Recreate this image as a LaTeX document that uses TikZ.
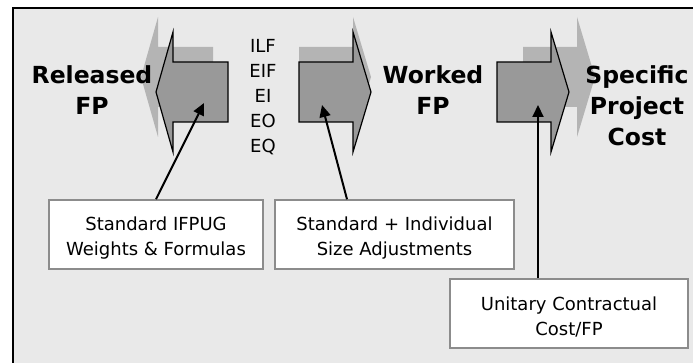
\documentclass[tikz,border=0pt]{standalone}
\usepackage{fontspec}
\setmainfont{DejaVu Sans}
\usetikzlibrary{arrows.meta,calc}
\definecolor{bggray}{HTML}{E9E9E9}
\definecolor{arrowgray}{HTML}{999999}
\definecolor{shadowgray}{HTML}{B4B4B4}
\definecolor{boxgray}{HTML}{8C8C8C}
\begin{document}
\begin{tikzpicture}[x=1pt,y=-1pt,
  bigarrow/.style={fill=arrowgray,draw=black,line width=1.2pt,line join=miter},
  shadowarrow/.style={fill=shadowgray},
  infobox/.style={draw=boxgray,line width=1.5pt,fill=white,inner sep=0pt,minimum height=69pt},
  boxtext/.style={font=\fontsize{18}{25}\selectfont,align=center,inner sep=0pt},
  biglabel/.style={font=\fontsize{23.5}{31}\selectfont\bfseries,align=center,inner sep=0pt},
  codelabel/.style={font=\fontsize{18}{25}\selectfont,align=center,inner sep=0pt},
  pointer/.style={line width=2pt,-{Triangle[length=12pt,width=11pt]}}]
\useasboundingbox (0,0) rectangle (693,363);
% frame
\fill[bggray] (13,8) rectangle (693,363);
\draw[line width=2pt] (13,363) -- (13,8) -- (693,8);
% left arrow
\fill[shadowarrow] (213,47) -- (158,47) -- (158,17) -- (141,77) -- (158,137) -- (158,107) -- (213,107) -- cycle;
\draw[bigarrow] (228,62) -- (173,62) -- (173,32) -- (156,92) -- (173,152) -- (173,122) -- (228,122) -- cycle;
% middle arrow
\fill[shadowarrow] (299,47) -- (353,47) -- (353,17) -- (371,77) -- (353,137) -- (353,107) -- (299,107) -- cycle;
\draw[bigarrow] (299,62) -- (353,62) -- (353,32) -- (371,92) -- (353,152) -- (353,122) -- (299,122) -- cycle;
% right arrow
\fill[shadowarrow] (523,47) -- (577,47) -- (577,17) -- (595,77) -- (577,137) -- (577,107) -- (523,107) -- cycle;
\draw[bigarrow] (497,62) -- (551,62) -- (551,32) -- (569,92) -- (551,152) -- (551,122) -- (497,122) -- cycle;
% pointer targets
\coordinate (t1) at (204,103);
\coordinate (t2) at (322,105);
\coordinate (t3) at (538,105);
% labels
\node[biglabel] (rel) at (92,90) {Released\\FP};
\node[biglabel] (wor) at (433,90) {Worked\\FP};
\node[biglabel] (spc) at (637,106) {Specific\\Project\\Cost};
\node[codelabel] (codes) at (263,97.5) {ILF\\EIF\\EI\\EO\\EQ};
% boxes
\node[infobox,minimum width=214pt] (b1) at (156,234.5) {};
\node[infobox,minimum width=239pt] (b2) at (394.5,234.5) {};
\node[infobox,minimum width=238pt] (b3) at (569,313.5) {};
\node[boxtext] (b1t) at ([yshift=-4pt]b1.center) {Standard IFPUG\\Weights \& Formulas};
\node[boxtext] (b2t) at ([yshift=-4pt]b2.center) {Standard + Individual\\Size Adjustments};
\node[boxtext] (b3t) at ([yshift=-3pt]b3.center) {Unitary Contractual\\Cost/FP};
% pointers
\draw[pointer] (b1.north) -- (t1);
\draw[pointer] ([xshift=-47.5pt]b2.north) -- (t2);
\draw[pointer] (t3 |- b3.north) -- (t3);
\end{tikzpicture}
\end{document}
